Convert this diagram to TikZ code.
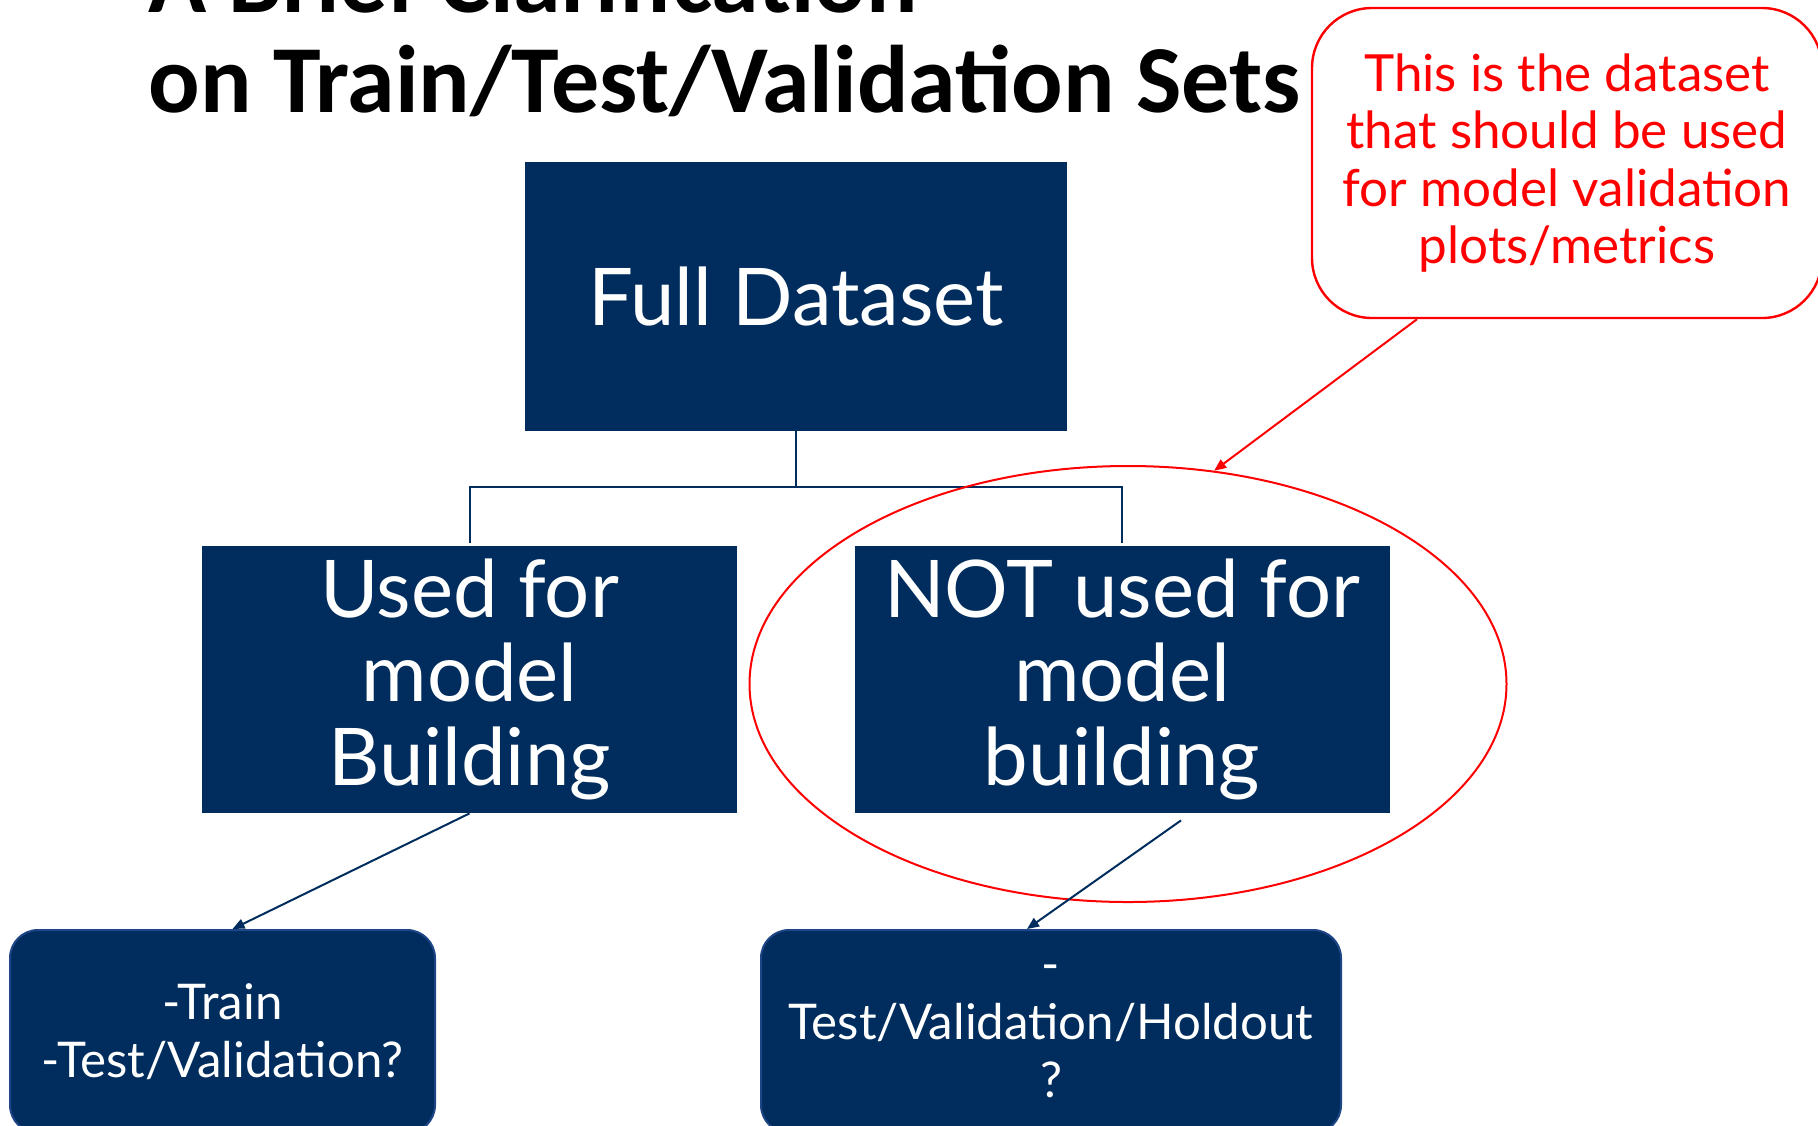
\documentclass[tikz,border=0pt]{standalone}
\usepackage{fontspec}
\setmainfont{Lato}
\newfontfamily\titlefont{Carlito}
\usetikzlibrary{arrows.meta,shapes.geometric,calc}
\definecolor{navy}{RGB}{0,45,93}
\definecolor{navyedge}{RGB}{30,70,135}
\tikzset{
 bigbox/.style={rectangle, fill=navy, text=white, align=center, inner sep=0pt,
   minimum width=267.5pt, minimum height=133.5pt, font=\fontsize{39.8}{42}\selectfont},
 smallbox/.style={rectangle, rounded corners=14pt, fill=navy, draw=navyedge, line width=1pt,
   text=white, align=center, inner sep=0pt, minimum height=101.5pt, font=\fontsize{24.6}{29}\selectfont},
 conn/.style={navy, line width=1pt},
 navyarrow/.style={navy, line width=1pt, -{Triangle[length=6pt,width=5pt]}},
 redarrow/.style={red, line width=1pt, -{Triangle[length=6pt,width=5pt]}},
 calloutbox/.style={rectangle, rounded corners=30pt, draw=red, line width=1.2pt, text=red,
   align=center, inner sep=0pt, minimum width=255pt, minimum height=155pt, font=\fontsize{25.6}{28.8}\selectfont},
 titletext/.style={anchor=base west, inner sep=0pt, font=\titlefont\bfseries\fontsize{48}{50}\selectfont},
}
\begin{document}
\begin{tikzpicture}[x=0.5pt,y=-0.5pt]
\useasboundingbox (0,0) rectangle (1818,1125);
\clip (0,0) rectangle (1818,1125);
% title
\node[titletext] (t1) at (148,12) {A Brief Clarification};
\node[titletext] (t2) at (148,112) {on Train/Test/Validation Sets};
% main boxes
\node[bigbox, minimum width=271pt, minimum height=134.5pt] (full) at (796,296.5) {Full Dataset};
\node[bigbox] (left) at (469.5,679.5) {Used for\\model\\Building};
\node[bigbox] (right) at (1122,679.5) {NOT used for\\model\\building};
% tree connector
\draw[conn] (full.south) -- ++(0,-28pt) coordinate (j);
\draw[conn] ([yshift=1.5pt]left.north) |- (j) -| ([yshift=1.5pt]right.north);
% ellipse
\node[ellipse, draw=red, line width=1pt, minimum width=378.5pt, minimum height=218pt, inner sep=0pt] (ell) at (1128,684) {};
% callout
\node[calloutbox] (callout) at (1567,163) {This is the dataset\\that should be used\\for model validation\\plots/metrics};
\draw[redarrow] ([xshift=-75pt]callout.south) -- (ell.68);
% bottom boxes
\node[smallbox, minimum width=212.5pt] (bl) at (222.5,1031.5) {-Train\\-Test/Validation?};
\node[smallbox, minimum width=290pt] (br) at (1051,1031.5) {-\\Test/Validation/Holdout\\?};
\draw[navyarrow] (left.south) -- ([xshift=5pt]bl.north);
\draw[navyarrow] ([xshift=29.5pt,yshift=-3.5pt]right.south) -- ([xshift=-12pt]br.north);
\end{tikzpicture}
\end{document}
